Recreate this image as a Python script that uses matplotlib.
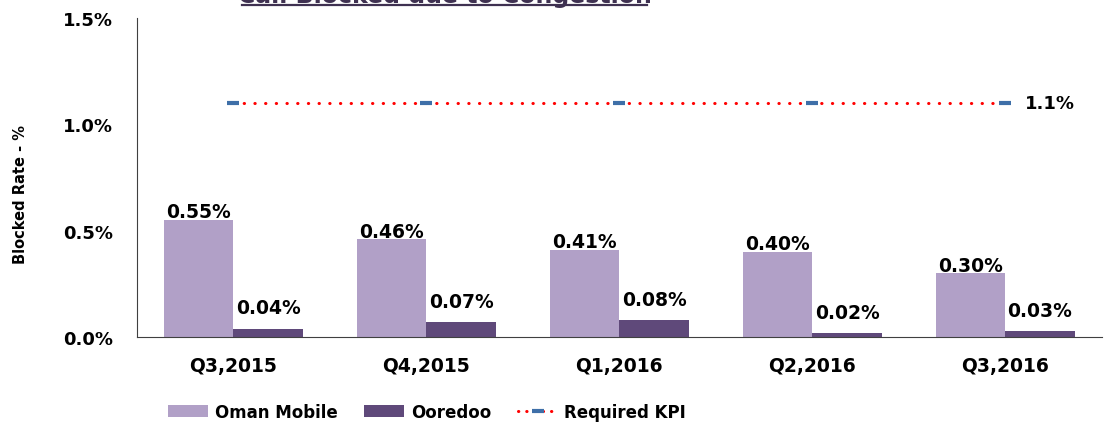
import matplotlib.pyplot as plt
import numpy as np
from matplotlib.lines import Line2D
from matplotlib.patches import Patch

quarters = ["Q3,2015", "Q4,2015", "Q1,2016", "Q2,2016", "Q3,2016"]
oman_mobile = [0.55, 0.46, 0.41, 0.40, 0.30]
ooredoo = [0.04, 0.07, 0.08, 0.02, 0.03]
required_kpi = [1.1, 1.1, 1.1, 1.1, 1.1]

light = "#B1A0C7"
dark = "#5F497A"

plt.rcParams['font.family'] = ['DejaVu Sans']
plt.rcParams['font.weight'] = 'bold'

fig = plt.figure(figsize=(11.04, 4.27), dpi=100)
ax = fig.add_axes([0.124, 0.2084, 0.874, 0.747])

x = np.arange(len(quarters))
w = 0.36
bars1 = ax.bar(x - w / 2, oman_mobile, w, color=light, label="Oman Mobile")
bars2 = ax.bar(x + w / 2, ooredoo, w, color=dark, label="Ooredoo")

# data labels
for rect, v in zip(bars1, oman_mobile):
    ax.annotate("{:.2f}%".format(v), (rect.get_x() + rect.get_width() / 2, v),
                xytext=(0, -1), textcoords="offset points",
                ha="center", va="bottom", fontsize=13.5, fontweight="bold")
for rect, v in zip(bars2, ooredoo):
    ax.annotate("{:.2f}%".format(v), (rect.get_x() + rect.get_width() / 2, v),
                xytext=(0, 8), textcoords="offset points",
                ha="center", va="bottom", fontsize=13.5, fontweight="bold")

# KPI line
ax.plot(x, required_kpi, color="red", lw=2.2, linestyle=(0, (0.1, 3.4)),
        dash_capstyle="round", marker="_", markersize=8, markeredgewidth=3,
        markeredgecolor="#3E6FA8", zorder=3)
ax.annotate("{:.1f}%".format(required_kpi[-1]), (x[-1], required_kpi[-1]),
            xytext=(14, 0), textcoords="offset points",
            ha="left", va="center", fontsize=13, fontweight="bold")

ax.set_xlim(-0.5, len(quarters) - 0.5)
ax.set_ylim(0, 1.5)
ax.set_yticks([0, 0.5, 1.0, 1.5])
ax.set_yticklabels(["0.0%", "0.5%", "1.0%", "1.5%"])
ax.set_xticks(x)
ax.set_xticklabels(quarters)
ax.tick_params(axis="y", length=0, labelsize=13, pad=17)
ax.tick_params(axis="x", length=0, labelsize=13.5, pad=14)
for lab in ax.get_xticklabels() + ax.get_yticklabels():
    lab.set_fontweight("bold")

ax.spines["top"].set_visible(False)
ax.spines["right"].set_visible(False)
ax.spines["left"].set_color("#404040")
ax.spines["bottom"].set_color("#404040")

fig.text(0.019, 0.545, "Blocked Rate - %", rotation=90, ha="center", va="center",
         fontsize=10.5, fontweight="bold")

# title, cut off at top as in the slide
fig.text(0.4026, 0.993, "Call Blocked due to Congestion", ha="center",
         va="baseline", fontsize=17, fontweight="bold", color="#3F3151")
fig.add_artist(Line2D([242 / 1104, 647 / 1104], [0.986, 0.986],
                      color="#3F3151", lw=1.6, transform=fig.transFigure))

handles = [
    Patch(facecolor=light, label="Oman Mobile"),
    Patch(facecolor=dark, label="Ooredoo"),
    Line2D([0], [0], color="red", lw=2.2, linestyle=(0, (0.1, 2.6)),
           dash_capstyle="round", marker="_", markersize=8, markeredgewidth=3,
           markeredgecolor="#3E6FA8", label="Required KPI"),
]
fig.legend(handles=handles, loc="center", bbox_to_anchor=(427 / 1104, 1 - 413 / 427),
           ncol=3, frameon=False, prop={"weight": "bold", "size": 12},
           handlelength=2.4, handleheight=0.7, columnspacing=1.6, handletextpad=0.4,
           numpoints=1)

fig.savefig("out.png", dpi=100)
